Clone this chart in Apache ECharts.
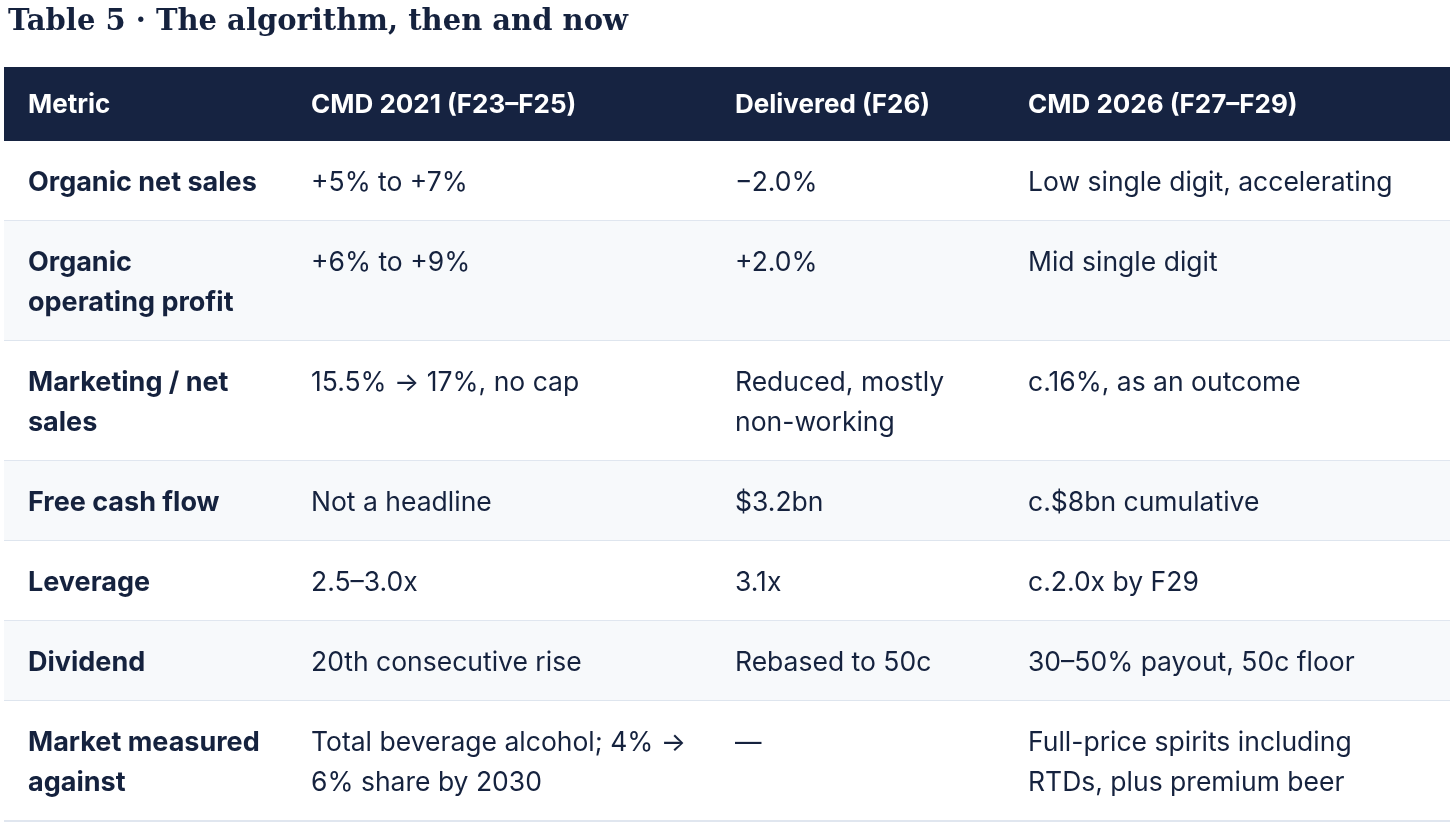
<!DOCTYPE html>
<html>
<head>
<meta charset="utf-8">
<script src="https://cdn.jsdelivr.net/npm/echarts@6/dist/echarts.min.js"></script>
<style>
  html, body { margin: 0; padding: 0; background: #fff; }
  #container { width: 1456px; height: 826px; }
</style>
</head>
<body>
<div id="container"></div>
<script>
var titleText = 'Table 5 · The algorithm, then and now';
var headers = ['Metric', 'CMD 2021 (F23–F25)', 'Delivered (F26)', 'CMD 2026 (F27–F29)'];
var metrics = [
  'Organic net sales',
  'Organic\noperating profit',
  'Marketing / net\nsales',
  'Free cash flow',
  'Leverage',
  'Dividend',
  'Market measured\nagainst'
];
var cmd2021 = [
  '+5% to +7%',
  '+6% to +9%',
  '15.5% → 17%, no cap',
  'Not a headline',
  '2.5–3.0x',
  '20th consecutive rise',
  'Total beverage alcohol; 4% →\n6% share by 2030'
];
var delivered = [
  '−2.0%',
  '+2.0%',
  'Reduced, mostly\nnon-working',
  '$3.2bn',
  '3.1x',
  'Rebased to 50c',
  '—'
];
var cmd2026 = [
  'Low single digit, accelerating',
  'Mid single digit',
  'c.16%, as an outcome',
  'c.$8bn cumulative',
  'c.2.0x by F29',
  '30–50% payout, 50c floor',
  'Full-price spirits including\nRTDs, plus premium beer'
];

var dom = document.getElementById('container');
var myChart = echarts.init(dom, null, { renderer: 'canvas' });

var columns = [metrics, cmd2021, delivered, cmd2026];
var colX = [28, 311, 735, 1028];
var tableLeft = 4, tableRight = 1450;
var headerTop = 67, headerHeight = 74;
var lineH = 40, padY = 20;
var ink = '#15223e';

// row tops from the number of text lines in each row
var rowTop = [], rowHeight = [];
var y = headerTop + headerHeight;
metrics.forEach(function (m, i) {
  var lines = 1;
  columns.forEach(function (col) {
    lines = Math.max(lines, col[i].split('\n').length);
  });
  rowTop.push(y);
  rowHeight.push(lines * lineH + padY * 2);
  y += lines * lineH + padY * 2;
});

function renderHeader(params, api) {
  var children = [{
    type: 'rect',
    shape: { x: tableLeft, y: headerTop, width: tableRight - tableLeft, height: headerHeight },
    style: { fill: '#162341' }
  }];
  headers.forEach(function (h, c) {
    children.push({
      type: 'text',
      x: colX[c],
      y: headerTop + headerHeight / 2 + 1,
      style: {
        text: h,
        fill: '#ffffff',
        fontFamily: 'Inter',
        fontWeight: 'bold',
        fontSize: 26,
        verticalAlign: 'middle'
      }
    });
  });
  return { type: 'group', children: children };
}

function renderRow(params, api) {
  var i = params.dataIndex;
  var top = rowTop[i], h = rowHeight[i];
  var children = [];
  children.push({
    type: 'rect',
    shape: { x: tableLeft, y: top, width: tableRight - tableLeft, height: h },
    style: { fill: i % 2 ? '#f7f9fb' : '#ffffff' }
  });
  children.push({
    type: 'line',
    shape: { x1: tableLeft, y1: top + h, x2: tableRight, y2: top + h },
    style: { stroke: '#d6deea', lineWidth: 1.5 }
  });
  columns.forEach(function (col, c) {
    children.push({
      type: 'text',
      x: colX[c],
      y: top + padY + 2,
      style: {
        text: col[i],
        fill: ink,
        fontFamily: 'Inter',
        fontWeight: c === 0 ? 'bold' : 'normal',
        fontSize: c === 0 ? 27 : 26.5,
        lineHeight: lineH,
        verticalAlign: 'top'
      }
    });
  });
  return { type: 'group', children: children };
}

var option = {
  backgroundColor: '#ffffff',
  animation: false,
  title: {
    text: titleText,
    left: 3,
    top: 3,
    textStyle: {
      fontFamily: 'DejaVu Serif',
      fontWeight: 'bold',
      fontSize: 29,
      color: ink
    }
  },
  series: [
    {
      type: 'custom',
      coordinateSystem: 'none',
      renderItem: renderHeader,
      data: [0]
    },
    {
      type: 'custom',
      coordinateSystem: 'none',
      renderItem: renderRow,
      data: metrics.map(function (m, i) { return i; })
    }
  ]
};

myChart.setOption(option);
window.addEventListener('resize', myChart.resize);
</script>
</body>
</html>
